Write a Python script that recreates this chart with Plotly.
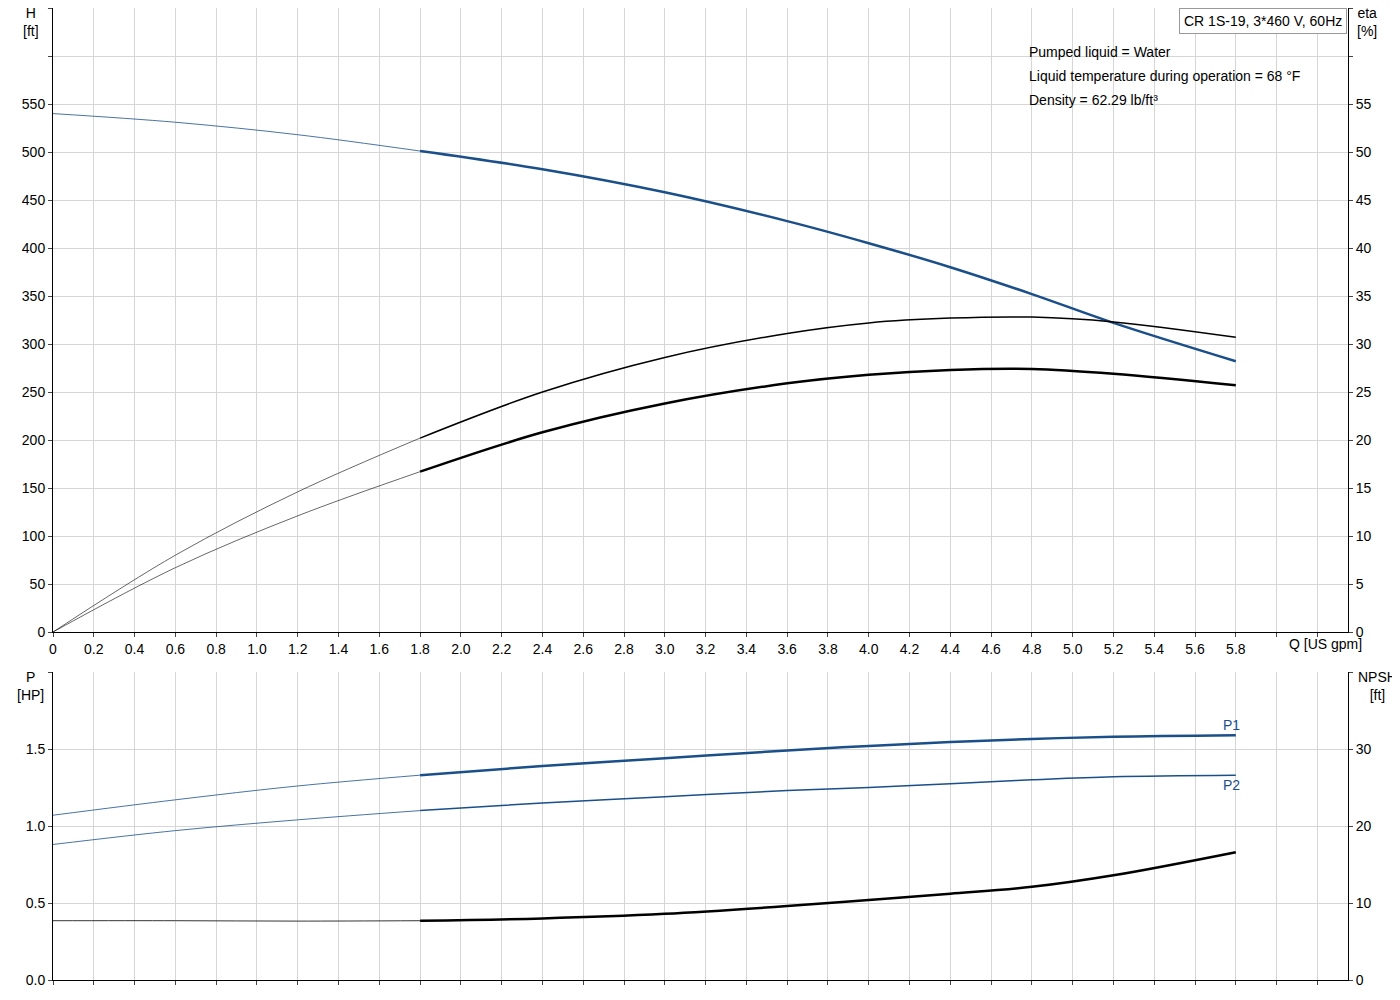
import plotly.graph_objects as go

q_lo = [0, 0.6, 1.2, 1.8]
q_hi = [1.8, 2.4, 3.0, 3.6, 4.0, 4.4, 4.8, 5.2, 5.8]
H_lo = [540, 531, 518, 501]
H_hi = [501, 482, 458, 428, 405, 380, 352, 322, 282]
eta1_lo = [0, 8.0, 14.6, 20.2]
eta1_hi = [20.2, 25.0, 28.6, 31.1, 32.2, 32.7, 32.8, 32.3, 30.7]
eta2_lo = [0, 6.7, 12.1, 16.7]
eta2_hi = [16.7, 20.8, 23.8, 25.9, 26.8, 27.3, 27.4, 26.9, 25.7]
P1_lo = [1.07, 1.17, 1.26, 1.33]
P1_hi = [1.33, 1.39, 1.44, 1.49, 1.52, 1.545, 1.565, 1.58, 1.59]
P2_lo = [0.88, 0.97, 1.04, 1.10]
P2_hi = [1.10, 1.15, 1.19, 1.23, 1.25, 1.275, 1.30, 1.32, 1.33]
NPSH_lo = [7.7, 7.7, 7.65, 7.7]
NPSH_hi = [7.7, 8.0, 8.6, 9.6, 10.4, 11.2, 12.1, 13.6, 16.6]
info_lines = ["Pumped liquid = Water",
              "Liquid temperature during operation = 68 °F",
              "Density = 62.29 lb/ft³"]

BLUE = "#1a4f8a"
fig = go.Figure()
def add(x, y, xa, ya, color, w):
    fig.add_trace(go.Scatter(x=x, y=y, xaxis=xa, yaxis=ya, mode="lines",
                             line=dict(color=color, width=w, shape="spline"),
                             showlegend=False, hoverinfo="skip"))
add(q_lo, H_lo, "x", "y", BLUE, 0.8); add(q_hi, H_hi, "x", "y", BLUE, 2.5)
add(q_lo, eta1_lo, "x", "y2", "black", 0.6); add(q_hi, eta1_hi, "x", "y2", "black", 1.5)
add(q_lo, eta2_lo, "x", "y2", "black", 0.6); add(q_hi, eta2_hi, "x", "y2", "black", 2.5)
add(q_lo, P1_lo, "x2", "y3", BLUE, 0.8); add(q_hi, P1_hi, "x2", "y3", BLUE, 2.5)
add(q_lo, P2_lo, "x2", "y3", BLUE, 0.8); add(q_hi, P2_hi, "x2", "y3", BLUE, 1.5)
add(q_lo, NPSH_lo, "x2", "y4", "black", 0.8); add(q_hi, NPSH_hi, "x2", "y4", "black", 2.5)

xr = [0, 6.35]
top = [(972-624)/972, 1]; bot = [0, (972-664)/972]
grid = dict(showgrid=True, gridcolor="#d6d6d6", gridwidth=1, zeroline=False, automargin=False,
            showline=True, linecolor="black", ticks="outside", ticklen=4,
            tickfont=dict(size=14, color="black"))
xticks = [round(i*0.2, 1) for i in range(32)]
xtext = [f"{v:.1f}" if v <= 5.8 else "" for v in xticks]
xtext[0] = "0"
fig.update_layout(
    width=1400, height=1000, plot_bgcolor="white", paper_bgcolor="white",
    margin=dict(l=45, r=60, t=0, b=28),
    font=dict(family="Arial, Liberation Sans", size=14, color="black"),
    xaxis=dict(domain=[0, 1], range=xr, anchor="y", tickvals=xticks, ticktext=xtext, **grid),
    xaxis2=dict(domain=[0, 1], range=xr, anchor="y3", tickvals=xticks, ticktext=[""]*32, **grid),
    yaxis=dict(domain=top, range=[0, 650], tickvals=list(range(0, 651, 50)),
               ticktext=[str(v) if v <= 550 else "" for v in range(0, 651, 50)], **grid),
    yaxis2=dict(domain=top, range=[0, 65], overlaying="y", side="right", anchor="x",
                tickvals=list(range(0, 66, 5)), ticktext=[str(v) if v <= 55 else "" for v in range(0, 66, 5)],
                **{**grid, "showgrid": False}),
    yaxis3=dict(domain=bot, range=[0, 2.0], tickvals=[0, 0.5, 1.0, 1.5, 2.0],
                ticktext=["0.0", "0.5", "1.0", "1.5", ""], **grid),
    yaxis4=dict(domain=bot, range=[0, 40], overlaying="y3", side="right", anchor="x2",
                tickvals=[0, 10, 20, 30, 40], ticktext=["0", "10", "20", "30", ""],
                **{**grid, "showgrid": False}),
)
ann = [
    dict(x=-0.017, y=1.005, text="H<br>[ft]", xanchor="center", yanchor="top"),
    dict(x=1.0145, y=1.005, text="eta<br>[%]", xanchor="center", yanchor="top"),
    dict(x=-0.017, y=bot[1]+0.005, text="P<br>[HP]", xanchor="center", yanchor="top"),
    dict(x=1.023, y=bot[1]+0.005, text="NPSH<br>[ft]", xanchor="center", yanchor="top"),
]
for a in ann:
    fig.add_annotation(xref="paper", yref="paper", showarrow=False, align="center", **a)
fig.add_annotation(xref="x", yref="paper", x=6.05, y=top[0], text="Q [US gpm]", showarrow=False,
                   xanchor="left", yanchor="top", yshift=-2)
fig.add_shape(type="rect", xref="paper", yref="paper", x0=0.748, x1=0.998, y0=0.895, y1=0.97,
              fillcolor="white", line=dict(width=0), layer="below")
fig.add_annotation(xref="paper", yref="paper", x=0.999, y=1.0, text="CR 1S-19, 3*460 V, 60Hz",
                   showarrow=False, xanchor="right", yanchor="top", bgcolor="white",
                   bordercolor="#999", borderwidth=1, borderpad=4)
for i, t in enumerate(info_lines):
    fig.add_annotation(xref="paper", yref="paper", x=0.7525, y=1 - (44 + 24*i)/972, text=t,
                       showarrow=False, xanchor="left", yanchor="middle", font=dict(size=14))
fig.add_annotation(xref="x2", yref="y3", x=5.78, y=1.59, text="P1", showarrow=False,
                   yanchor="bottom", font=dict(color=BLUE))
fig.add_annotation(xref="x2", yref="y3", x=5.78, y=1.33, text="P2", showarrow=False,
                   yanchor="top", font=dict(color=BLUE))
fig.write_html("out.html")
